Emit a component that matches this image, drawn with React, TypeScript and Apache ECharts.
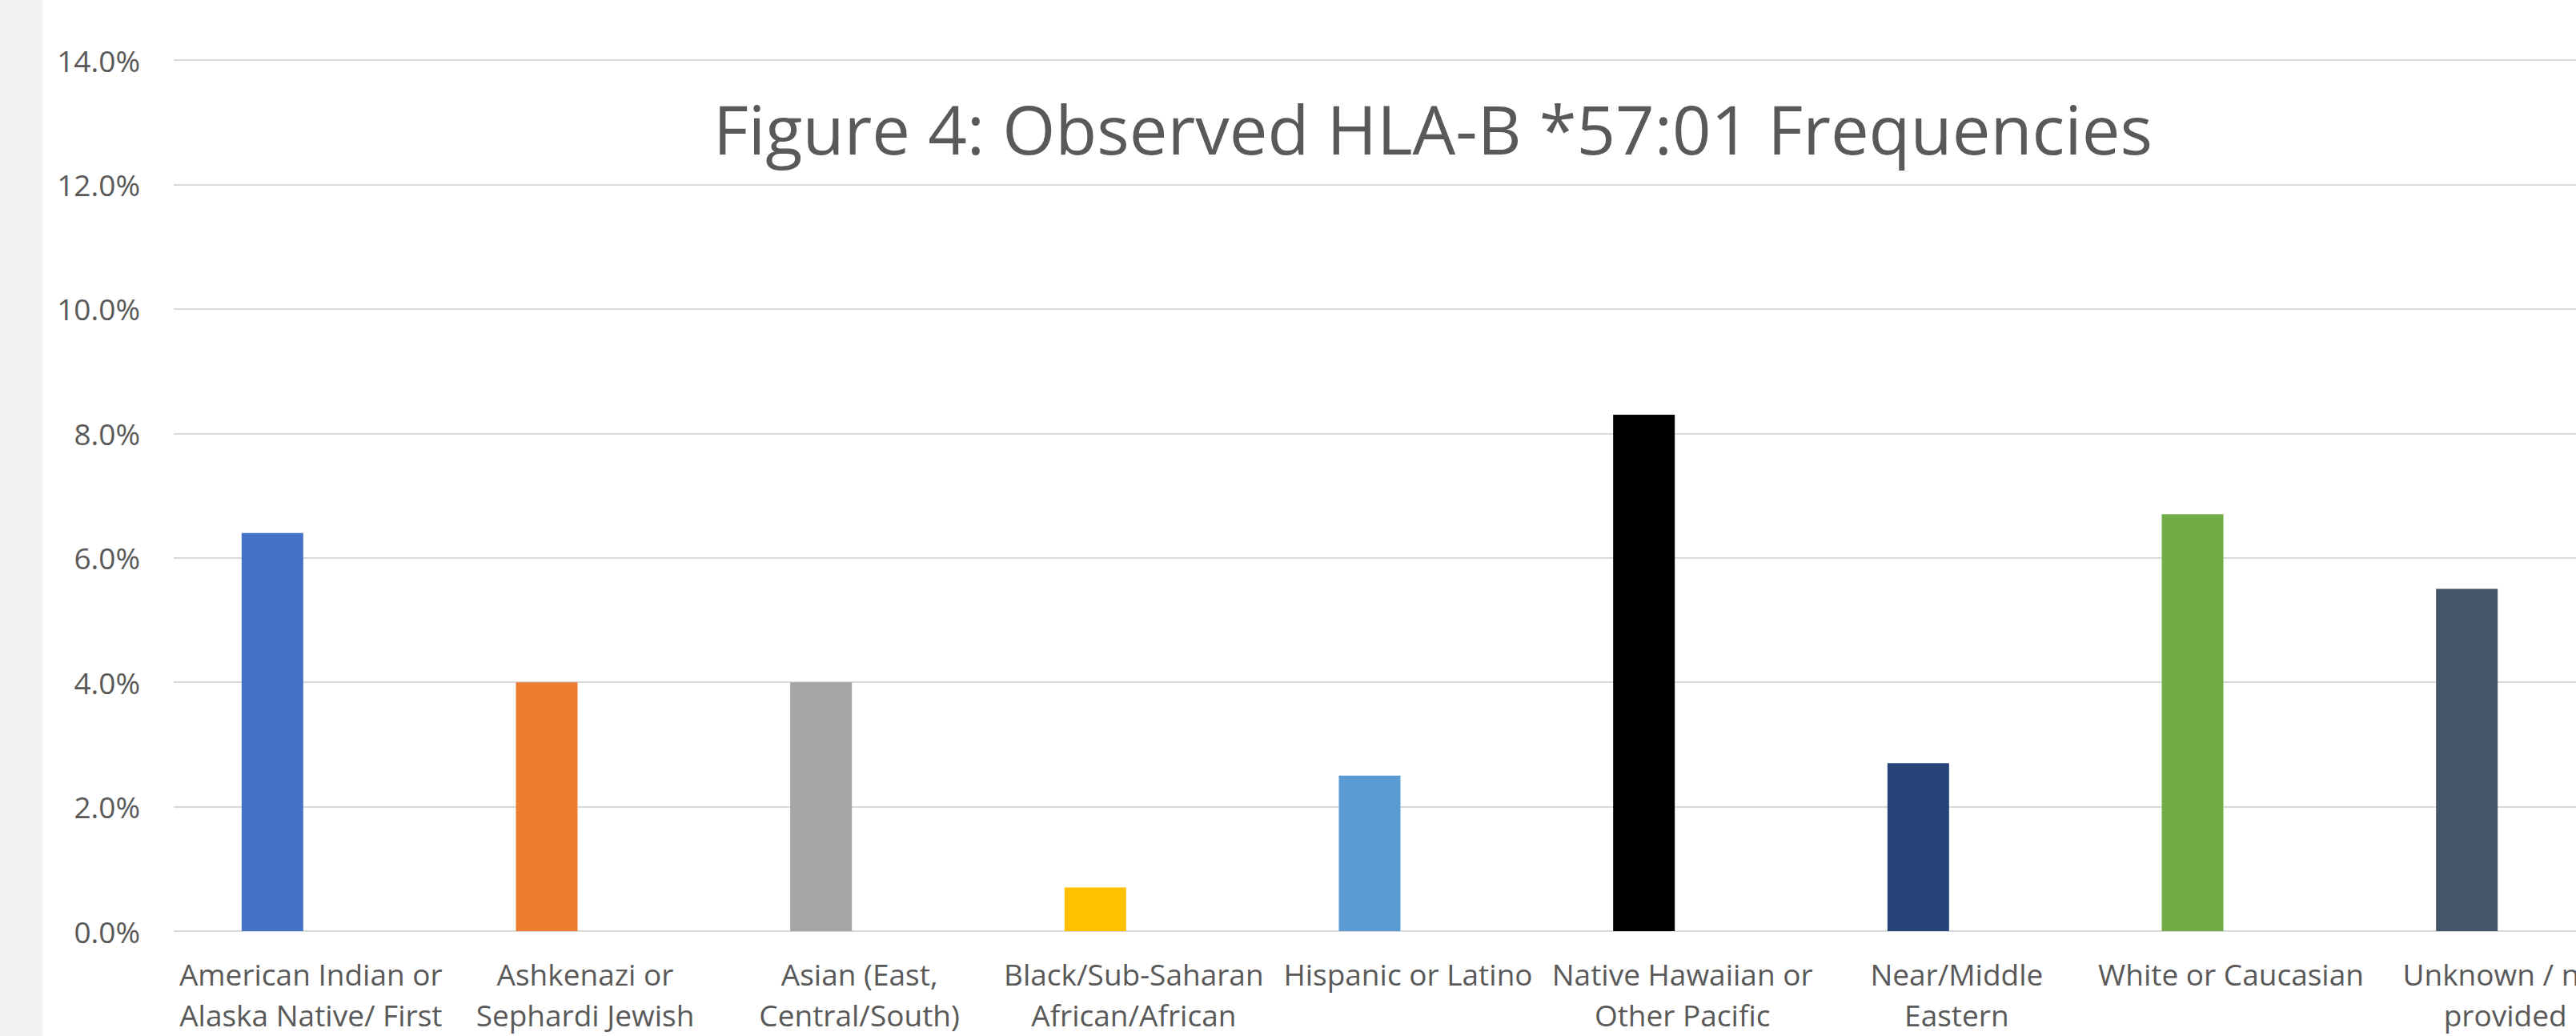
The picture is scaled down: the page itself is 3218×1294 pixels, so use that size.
import React, { useEffect, useRef } from "react";
import * as echarts from "echarts";

const categories = [
  "American Indian or\nAlaska Native/ First",
  "Ashkenazi or\nSephardi Jewish",
  "Asian (East,\nCentral/South)",
  "Black/Sub-Saharan\nAfrican/African",
  "Hispanic or Latino",
  "Native Hawaiian or\nOther Pacific",
  "Near/Middle\nEastern",
  "White or Caucasian",
  "Unknown / not\nprovided",
];
const values = [6.4, 4.0, 4.0, 0.7, 2.5, 8.3, 2.7, 6.7, 5.5];
const barColors = [
  "#4472C4",
  "#ED7D31",
  "#A5A5A5",
  "#FFC000",
  "#5B9BD5",
  "#000000",
  "#264478",
  "#70AD47",
  "#44546A",
];
const yMin = 0;
const yMax = 14;
const yInterval = 2;
const titleText = "Figure 4: Observed HLA-B *57:01 Frequencies";

const FONT = "'Open Sans', sans-serif";
const TEXT_COLOR = "#595959";
const CHART_W = 3301;
const CHART_H = 1294;

export default function App() {
  const ref = useRef<HTMLDivElement>(null);
  useEffect(() => {
    if (!ref.current) return;
    const chart = echarts.init(ref.current, undefined, { renderer: "svg" });
    chart.setOption({
      animation: false,
      backgroundColor: "#FFFFFF",
      textStyle: { fontFamily: FONT },
      graphic: [
        {
          type: "rect",
          shape: { x: 0, y: 0, width: 53, height: CHART_H },
          style: { fill: "#F2F2F2" },
          z: -10,
        },
        {
          type: "text",
          x: 1790,
          y: 160,
          style: {
            text: titleText,
            fontSize: 85,
            fontFamily: FONT,
            fill: TEXT_COLOR,
            textAlign: "center",
            textVerticalAlign: "middle",
          },
        },
      ],
      grid: [
        { left: 217, right: 0, top: 75, bottom: 131 },
        { left: 169, right: 48, top: 75, bottom: 131 },
      ],
      xAxis: [
        {
          gridIndex: 0,
          type: "category",
          data: categories,
          axisLine: { show: false },
          axisTick: { show: false },
          axisLabel: {
            interval: 0,
            fontSize: 37,
            lineHeight: 51,
            margin: 28,
            color: TEXT_COLOR,
            fontFamily: FONT,
          },
        },
        {
          gridIndex: 1,
          type: "category",
          data: categories,
          show: false,
        },
      ],
      yAxis: [
        {
          gridIndex: 0,
          type: "value",
          min: yMin,
          max: yMax,
          interval: yInterval,
          axisLine: { show: false },
          axisTick: { show: false },
          axisLabel: {
            formatter: (v: number) => v.toFixed(1) + "%",
            fontSize: 37,
            margin: 42,
            color: TEXT_COLOR,
            fontFamily: FONT,
          },
          splitLine: { lineStyle: { color: "#D9D9D9", width: 2 } },
        },
        {
          gridIndex: 1,
          type: "value",
          min: yMin,
          max: yMax,
          interval: yInterval,
          show: false,
          splitLine: { show: false },
        },
      ],
      series: [
        {
          type: "bar",
          xAxisIndex: 1,
          yAxisIndex: 1,
          barWidth: 77,
          data: values.map((v, i) => ({
            value: v,
            itemStyle: { color: barColors[i] },
          })),
        },
      ],
    });
    return () => chart.dispose();
  }, []);
  return (
    <div
      style={{
        position: "fixed",
        left: 0,
        top: 0,
        width: "3218px",
        height: CHART_H + "px",
        overflow: "hidden",
        background: "#FFFFFF",
      }}
    >
      <div
        ref={ref}
        style={{ width: CHART_W + "px", height: CHART_H + "px" }}
      />
    </div>
  );
}
